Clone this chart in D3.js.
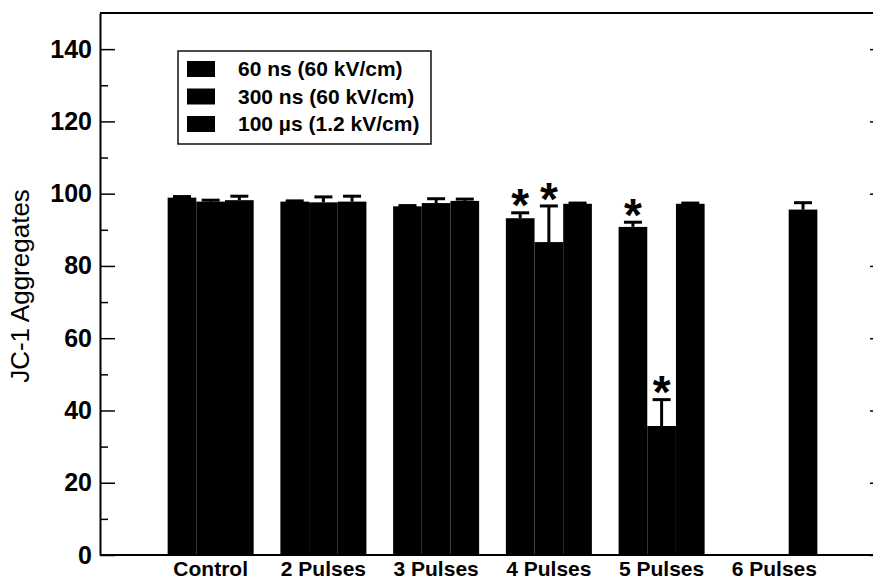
<!DOCTYPE html>
<html>
<head>
<meta charset="utf-8">
<script src="https://cdn.jsdelivr.net/npm/d3@7"></script>
<style>
  html, body { margin: 0; padding: 0; background: #fff; overflow: hidden; }
  svg { display: block; overflow: hidden; }
  text { font-family: "Liberation Sans", Arial, Helvetica, sans-serif; fill: #000; }
</style>
</head>
<body>
<svg id="chart" width="873" height="581"></svg>
<script>
// Treatment groups along the x axis
const categories = ["Control", "2 Pulses", "3 Pulses", "4 Pulses", "5 Pulses", "6 Pulses"];

// Pulse conditions (legend entries)
const seriesNames = ["60 ns (60 kV/cm)", "300 ns (60 kV/cm)", "100 \u00b5s (1.2 kV/cm)"];

// Mean JC-1 aggregates per group (null = not measured)
const values60ns  = [98.9, 97.8, 96.5, 93.2, 90.8, null];
const values300ns = [97.8, 97.6, 97.4, 86.6, 35.7, null];
const values100us = [98.2, 97.8, 98.0, 97.2, 97.2, 95.6];

// Upper error (SE) for each bar
const err60ns  = [0.3, 0.2, 0.2, 1.5, 1.3, null];
const err300ns = [0.4, 1.5, 1.2, 10.0, 7.3, null];
const err100us = [1.1, 1.5, 0.5, 0.2, 0.2, 1.9];

// Significance markers
const sig60ns  = [false, false, false, true, true, false];
const sig300ns = [false, false, false, true, true, false];
const sig100us = [false, false, false, false, false, false];

// Axis ticks
const yMajorTicks = [0, 20, 40, 60, 80, 100, 120, 140];
const yMinorTicks = [10, 30, 50, 70, 90, 110, 130];
const yLabel = "JC-1 Aggregates";

const series = [
  { name: seriesNames[0], values: values60ns,  errors: err60ns,  sig: sig60ns },
  { name: seriesNames[1], values: values300ns, errors: err300ns, sig: sig300ns },
  { name: seriesNames[2], values: values100us, errors: err100us, sig: sig100us }
];

const W = 873, H = 581;
const svg = d3.select("#chart");
const plot = { left: 100, right: 885, top: 13, bottom: 555 };

// Everything past the page edge is clipped (the right frame sits just outside)
svg.append("defs").append("clipPath").attr("id", "page")
  .append("rect").attr("width", W).attr("height", H);
const root = svg.append("g").attr("clip-path", "url(#page)");

const y = d3.scaleLinear().domain([0, 150]).range([plot.bottom, plot.top]);

const x = d3.scaleBand()
  .domain(categories)
  .range([plot.left, plot.right])
  .paddingInner(0.237)
  .paddingOuter(0.6);

const xs = d3.scaleBand()
  .domain(d3.range(series.length))
  .range([0, x.bandwidth()])
  .padding(0);

// Flatten bars
const bars = [];
series.forEach((s, si) => {
  categories.forEach((c, ci) => {
    if (s.values[ci] == null) return;
    bars.push({ cat: c, si, value: s.values[ci], err: s.errors[ci], sig: s.sig[ci] });
  });
});
const cx = d => x(d.cat) + xs(d.si) + xs.bandwidth() / 2;

// Bars
root.append("g")
  .selectAll("rect")
  .data(bars)
  .join("rect")
  .attr("x", d => x(d.cat) + xs(d.si))
  .attr("y", d => y(d.value))
  .attr("width", xs.bandwidth())
  .attr("height", d => y(0) - y(d.value))
  .attr("fill", "#000");

// Error bars (upper only)
const eb = root.append("g")
  .attr("stroke", "#000")
  .attr("stroke-width", 3);

eb.selectAll("line.stem")
  .data(bars.filter(d => d.err != null))
  .join("line")
  .attr("class", "stem")
  .attr("x1", cx).attr("x2", cx)
  .attr("y1", d => y(d.value))
  .attr("y2", d => y(d.value + d.err));

eb.selectAll("line.cap")
  .data(bars.filter(d => d.err != null))
  .join("line")
  .attr("class", "cap")
  .attr("x1", d => cx(d) - 9)
  .attr("x2", d => cx(d) + 9)
  .attr("y1", d => y(d.value + d.err))
  .attr("y2", d => y(d.value + d.err));

// Significance asterisks
root.append("g")
  .selectAll("text")
  .data(bars.filter(d => d.sig))
  .join("text")
  .attr("x", cx)
  .attr("y", d => y(d.value + (d.err || 0)) - 18 + 0.58 * 46)
  .attr("text-anchor", "middle")
  .attr("font-size", 46)
  .attr("font-weight", "bold")
  .text("*");

// Left axis: major ticks with labels, minor ticks, pointing inward
const leftMajor = d3.axisLeft(y).tickValues(yMajorTicks).tickSize(-15).tickSizeOuter(0).tickPadding(8);
const gLeft = root.append("g").attr("transform", `translate(${plot.left},0)`).call(leftMajor);
gLeft.selectAll("text").attr("font-size", 25).attr("font-weight", "bold")
  .attr("font-family", "'Liberation Sans', Arial, sans-serif");
const gLeftMinor = root.append("g").attr("transform", `translate(${plot.left},0)`)
  .call(d3.axisLeft(y).tickValues(yMinorTicks).tickSize(-8).tickSizeOuter(0).tickFormat(""));
gLeftMinor.select(".domain").remove();

// Right side: mirror ticks only
const gRight = root.append("g").attr("transform", `translate(${plot.right},0)`)
  .call(d3.axisRight(y).tickValues(yMajorTicks).tickSize(-15).tickSizeOuter(0).tickFormat(""));
gRight.select(".domain").remove();
const gRightMinor = root.append("g").attr("transform", `translate(${plot.right},0)`)
  .call(d3.axisRight(y).tickValues(yMinorTicks).tickSize(-8).tickSizeOuter(0).tickFormat(""));
gRightMinor.select(".domain").remove();

// Bottom axis with category labels
const gBottom = root.append("g").attr("transform", `translate(0,${plot.bottom})`)
  .call(d3.axisBottom(x).tickSize(0).tickSizeOuter(0).tickPadding(6));
gBottom.select(".domain").attr("d", `M${plot.left},0H${plot.right}`);
gBottom.selectAll("text").attr("font-size", 21).attr("font-weight", "bold")
  .attr("font-family", "'Liberation Sans', Arial, sans-serif");

// Top frame line
root.append("line")
  .attr("x1", plot.left).attr("x2", plot.right)
  .attr("y1", plot.top).attr("y2", plot.top)
  .attr("stroke", "#000").attr("stroke-width", 2);

root.selectAll(".domain").attr("stroke-width", 2);
root.selectAll(".tick line").attr("stroke-width", 1.5);

// Y axis title
root.append("text")
  .attr("transform", `translate(29,${(plot.top + plot.bottom) / 2 + 2}) rotate(-90)`)
  .attr("text-anchor", "middle")
  .attr("font-size", 26)
  .text(yLabel);

// Legend
const legend = root.append("g").attr("transform", "translate(178,51)");
legend.append("rect")
  .attr("width", 253).attr("height", 93)
  .attr("fill", "#fff").attr("stroke", "#111").attr("stroke-width", 1.5);
const rows = legend.selectAll("g.row")
  .data(series)
  .join("g")
  .attr("class", "row")
  .attr("transform", (d, i) => `translate(0,${25 + i * 27.5})`);
rows.append("rect")
  .attr("x", 9).attr("y", -15)
  .attr("width", 28).attr("height", 16)
  .attr("fill", "#000");
rows.append("text")
  .attr("x", 60).attr("y", 0)
  .attr("font-size", 21).attr("font-weight", "bold")
  .text(d => d.name);
</script>
</body>
</html>
